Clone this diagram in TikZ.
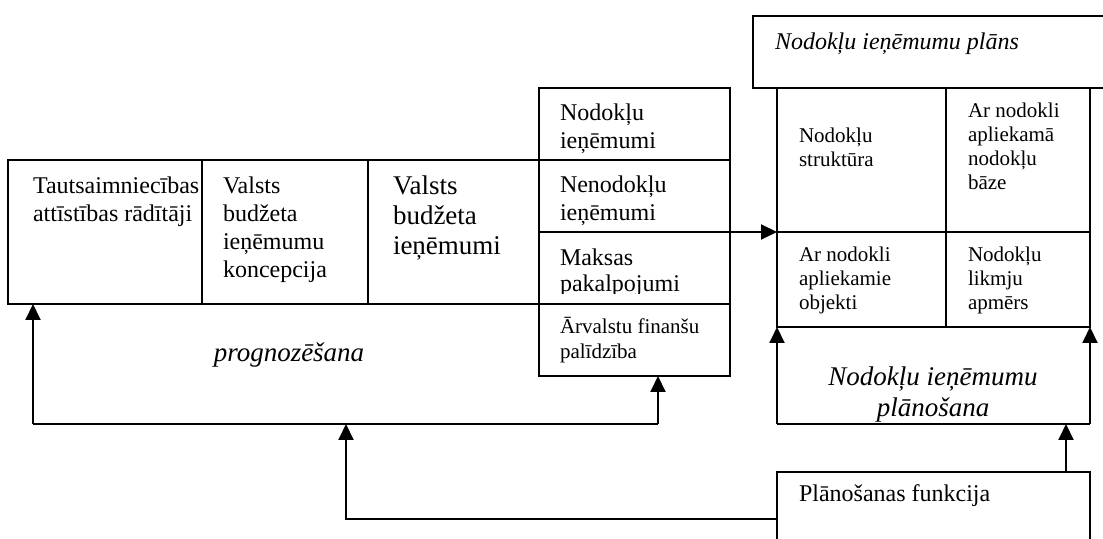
\documentclass[tikz,border=0pt]{standalone}
\usepackage{fontspec}
\setmainfont{Liberation Serif}
\usetikzlibrary{arrows.meta,fit}

\begin{document}
\begin{tikzpicture}[
  x=0.5pt, y=-0.5pt,
  line width=1pt,
  cell/.style={draw, inner sep=0pt, outer sep=0pt, line width=1pt},
  area/.style={inner sep=0pt, outer sep=0pt},
  arr/.style={-{Triangle[width=7.5pt,length=8pt]}, line width=1pt},
  % multi-line texts are placed by the baseline of their last line
  txt/.style={anchor=base west, inner sep=0pt, align=left},
  ctxt/.style={anchor=base, inner sep=0pt, align=center},
  sz12/.style={font=\fontsize{12pt}{14pt}\selectfont},
  sz12t/.style={font=\fontsize{12pt}{13pt}\selectfont},
  sz13/.style={font=\fontsize{13.5pt}{15pt}\selectfont},
  sz11/.style={font=\fontsize{10.5pt}{12.5pt}\selectfont},
  sz10/.style={font=\fontsize{10.5pt}{12pt}\selectfont},
  it12/.style={font=\fontsize{12pt}{14pt}\selectfont\itshape},
  it13/.style={font=\fontsize{13.5pt}{16pt}\selectfont\itshape},
]
\useasboundingbox (0,0) rectangle (1103,539);

% left block: three cells in a row
\node[cell, fit={(8,160)(202,304)}] (lb1) {};
\node[cell, fit={(202,160)(368,304)}] (lb2) {};
\node[cell, fit={(368,160)(539,304)}] (lb3) {};

% revenue column
\node[cell, fit={(539,88)(730,160)}] (m1) {};
\node[cell, fit={(539,160)(730,232)}] (m2) {};
\node[cell, fit={(539,232)(730,304)}] (m3) {};
\node[cell, fit={(539,304)(730,376)}] (m4) {};

% plan header and the 2x2 grid
\node[cell, fit={(753,16)(1112,88)}] (plan) {};
\node[cell, fit={(777,88)(946,232)}] (g1) {};
\node[cell, fit={(946,88)(1090,232)}] (g2) {};
\node[cell, fit={(777,232)(946,327)}] (g3) {};
\node[cell, fit={(946,232)(1090,327)}] (g4) {};

% planning area under the grid and the function box
\node[area, fit={(777,327)(1090,424)}] (pl) {};
\node[cell, fit={(777,472)(1090,548)}] (fn) {};

% texts
\node[txt, sz12] (t1) at (32,222) {Tautsaimniecības\\attīstības rādītāji};
\node[txt, sz12] (t2) at (222,278) {Valsts\\budžeta\\ieņēmumu\\koncepcija};
\node[txt, sz13] (t3) at (392,255) {Valsts\\budžeta\\ieņēmumi};
\node[txt, sz12] (t4) at (559,149) {Nodokļu\\ieņēmumi};
\node[txt, sz12] (t5) at (559,221) {Nenodokļu\\ieņēmumi};
\begin{scope}
  % the cell cuts off the descenders of its last line
  \clip (539,232) rectangle (730,294);
  \node[txt, sz12t] (t6) at (559,292) {Maksas\\pakalpojumi};
\end{scope}
\node[txt, sz11] (t7) at (559,359) {Ārvalstu finanšu\\palīdzība};
\node[txt, it12] (t8) at (774,50) {Nodokļu ieņēmumu plāns};
\node[txt, sz10] (t9) at (798,167) {Nodokļu\\struktūra};
\node[txt, sz10] (t10) at (967,190) {Ar nodokli\\apliekamā\\nodokļu\\bāze};
\node[txt, sz10] (t11) at (798,310) {Ar nodokli\\apliekamie\\objekti};
\node[txt, sz10] (t12) at (967,310) {Nodokļu\\likmju\\apmērs};
\node[ctxt, it13] (t13) at (933,417) {Nodokļu ieņēmumu\\plānošana};
\node[ctxt, it13] (t14) at (289,362) {prognozēšana};
\node[txt, sz12] (t15) at (798,502) {Plānošanas funkcija};

% connectors
\coordinate (busL) at (33,424);
\coordinate (busR) at (658,424);
\coordinate (busM) at (346,424);
\coordinate (elbow) at (346,519);
\coordinate (fup) at (1066,472);

\draw[arr] (m2.south east) -- (g3.north west);
\draw (pl.south west) -- (pl.south east);
\draw[arr] (pl.south west) -- (pl.north west);
\draw[arr] (pl.south east) -- (pl.north east);
\draw[arr] (fup) -- (fup |- pl.south);
\draw (busL) -- (busR);
\draw[arr] (busL) -- (busL |- lb1.south);
\draw[arr] (busR) -- (busR |- m4.south);
\draw[arr] (fn.west |- elbow) -- (elbow) -- (busM);
\end{tikzpicture}
\end{document}
